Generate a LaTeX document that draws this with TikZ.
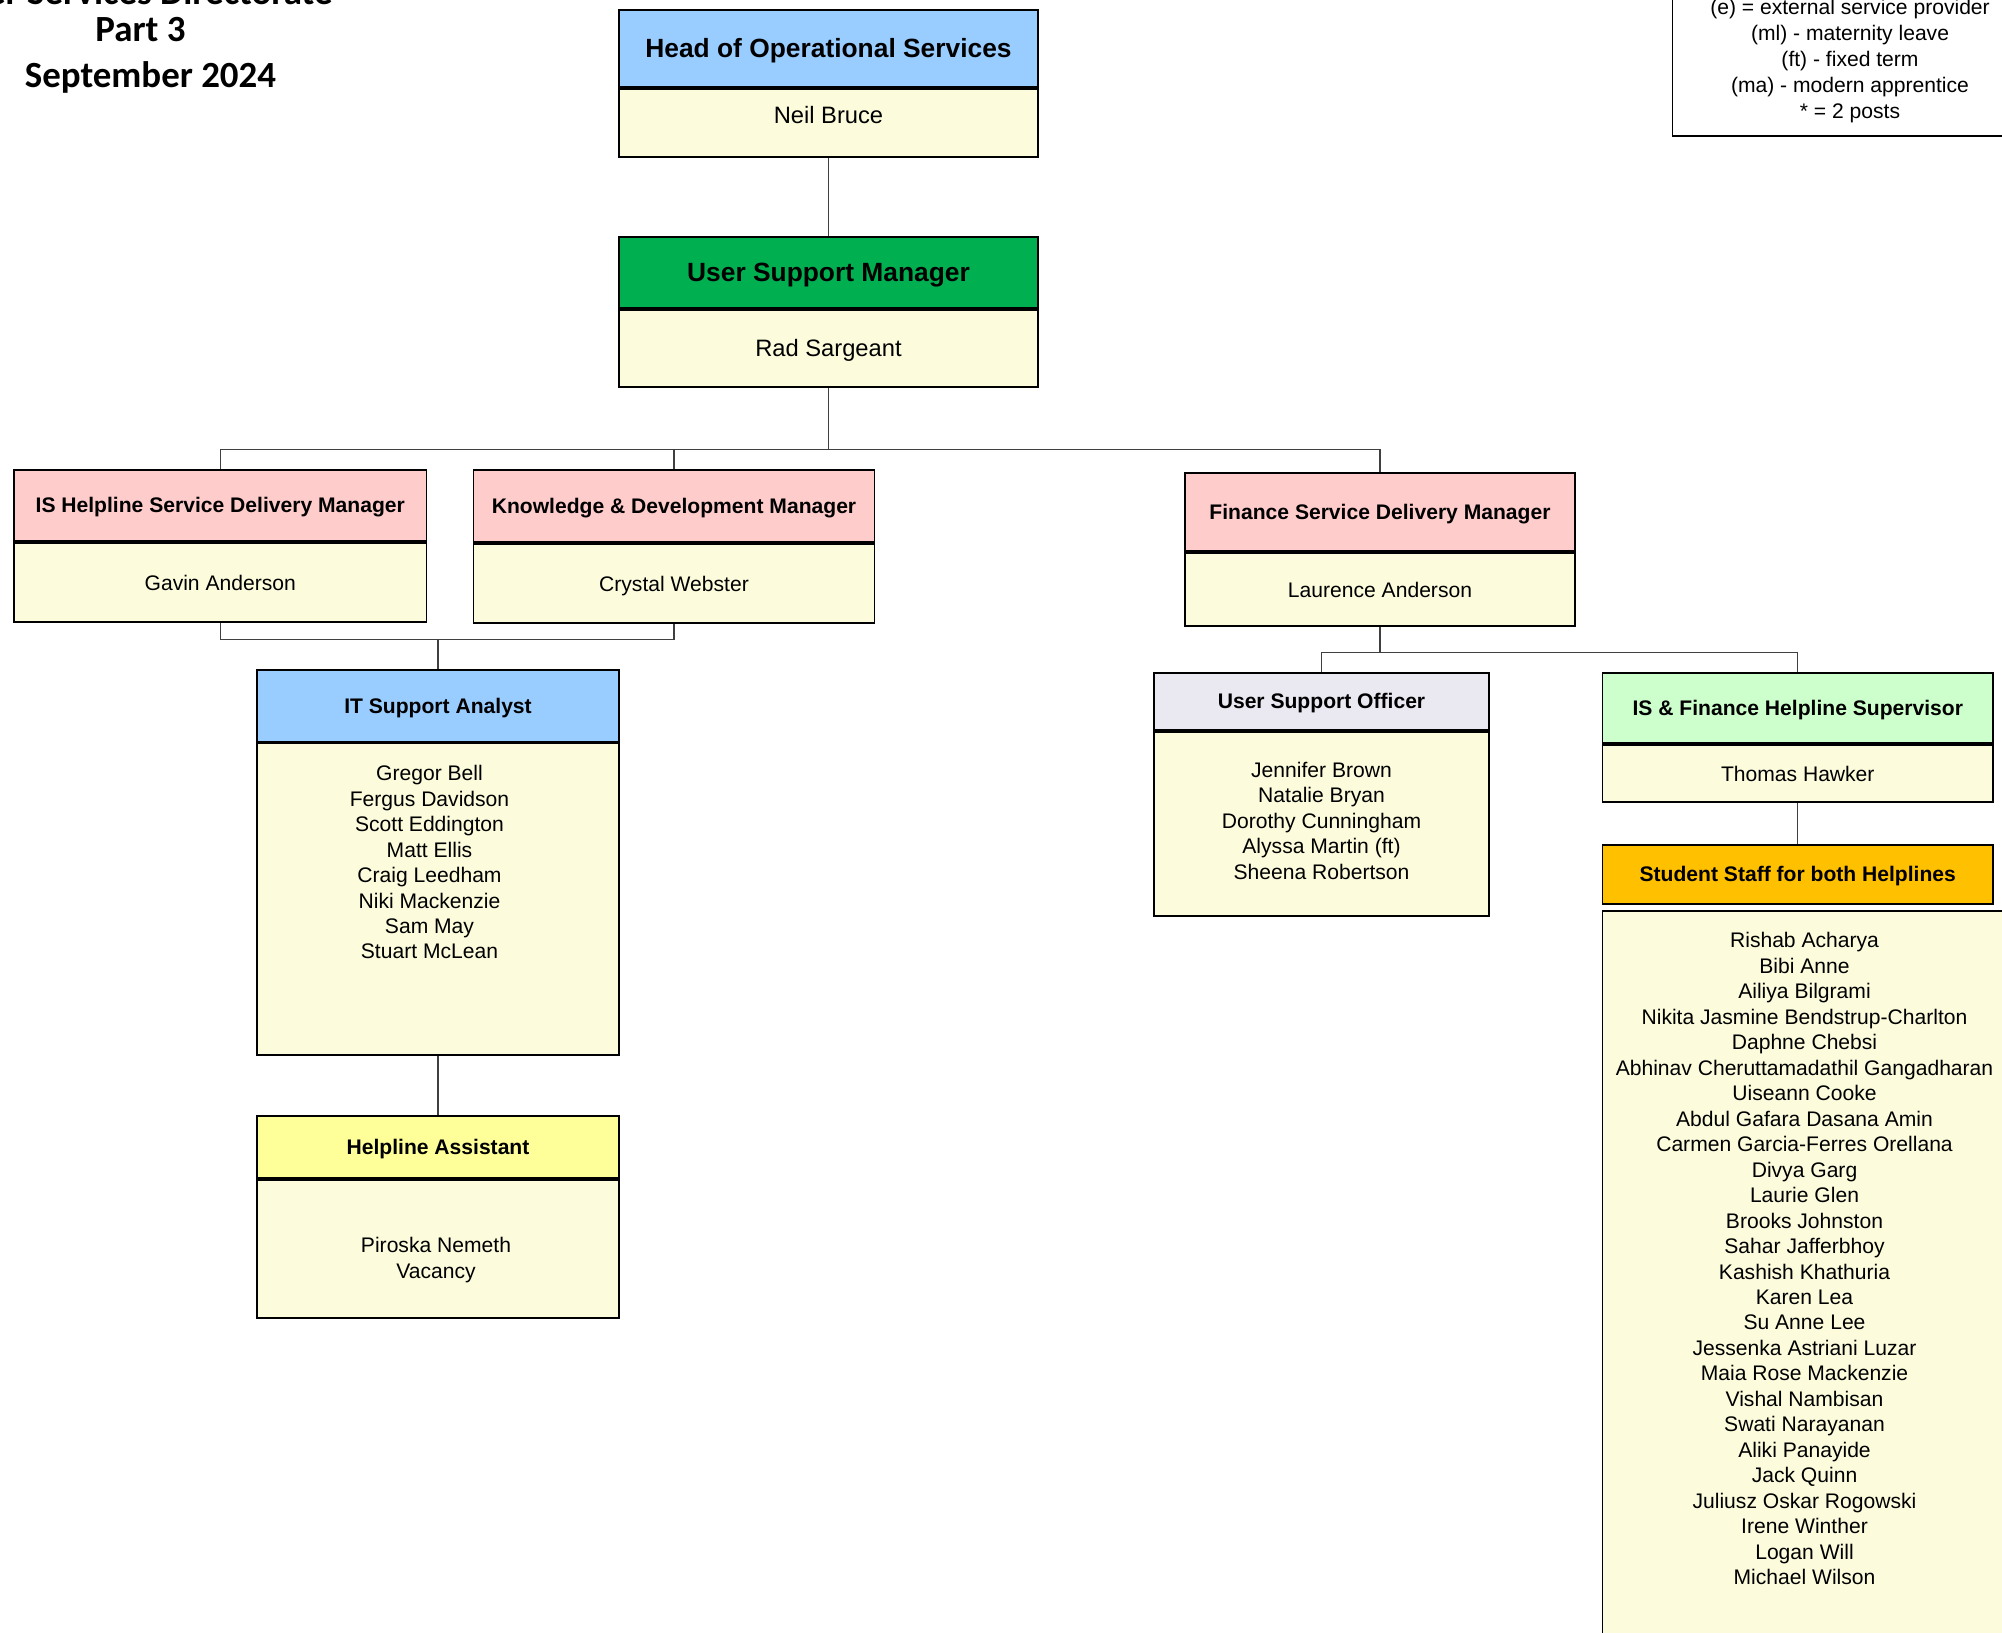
\documentclass[tikz,border=0pt]{standalone}
\usepackage{fontspec}
\setmainfont{Liberation Sans}
\newfontfamily\titlefont{Carlito}
\usetikzlibrary{positioning}
\definecolor{hdrblue}{RGB}{153,204,255}
\definecolor{hdrgreen}{RGB}{0,176,80}
\definecolor{hdrpink}{RGB}{255,204,204}
\definecolor{hdrlilac}{RGB}{234,232,241}
\definecolor{hdrmint}{RGB}{204,255,204}
\definecolor{hdrorange}{RGB}{255,192,0}
\definecolor{hdryellow}{RGB}{255,255,153}
\definecolor{namefill}{RGB}{252,252,220}
\tikzset{
    hdr/.style = {rectangle, draw=black, line width=1.1pt, inner sep=0pt, text height=8.6pt, text depth=0pt, font=\bfseries\fontsize{12}{14}\selectfont},
    hdrbig/.style = {text height=10.8pt, font=\bfseries\fontsize{15}{18}\selectfont},
    namebox/.style = {rectangle, draw=black, line width=1.1pt, inner sep=0pt, align=center, fill=namefill, font=\fontsize{12}{14.5}\selectfont},
    oneline/.style = {text height=8.6pt, text depth=0pt},
    namebig/.style = {text height=9.7pt, font=\fontsize{13.5}{16}\selectfont},
    namelist/.style = {align=center, inner sep=0pt, font=\fontsize{12}{14.5}\selectfont},
    keybox/.style = {rectangle, draw=black, line width=1.1pt, fill=white, inner xsep=0pt, inner ysep=0.25cm, align=center, minimum width=7.1cm, font=\fontsize{12}{14.8}\selectfont},
    titletext/.style = {inner sep=0pt, font=\titlefont\bfseries\fontsize{21}{25}\selectfont},
    linkn/.style = {draw=black!75, line width=0.6pt}, % connector
}
\begin{document}
\begin{tikzpicture}
\useasboundingbox (0,0) rectangle (40.04,-32.66);
%
\node[titletext, anchor=base] (title1) at (2.81,-0.09) {User Services Directorate};
\node[titletext, anchor=base] (title2) at (2.81,-0.83) {Part 3};
\node[titletext, anchor=base] (title3) at (3.01,-1.75) {September 2024};
%
\node[keybox, anchor=south] (key) at (37.0,-2.734) {(e) = external service provider\\(ml) - maternity leave\\(ft) - fixed term\\(ma) - modern apprentice\\* = 2 posts};
%
\node[hdr, hdrbig, fill=hdrblue, minimum width=8.38cm, minimum height=1.54cm, anchor=north] at (16.57,-0.18) (hos) {Head of Operational Services};
\node[namebox, oneline, namebig, text depth=0.3cm, minimum width=8.38cm, minimum height=1.36cm, below=0pt of hos] (hosn) {Neil Bruce};
\node[hdr, hdrbig, fill=hdrgreen, minimum width=8.38cm, minimum height=1.42cm, anchor=north] at (16.57,-4.72) (usm) {User Support Manager};
\node[namebox, oneline, namebig, minimum width=8.38cm, minimum height=1.54cm, below=0pt of usm] (usmn) {Rad Sargeant};
%
\node[hdr, fill=hdrpink, minimum width=8.25cm, minimum height=1.43cm, anchor=north] at (4.405,-9.372) (ish) {IS Helpline Service Delivery Manager};
\node[namebox, oneline, minimum width=8.25cm, minimum height=1.58cm, below=0pt of ish] (ishn) {Gavin Anderson};
\node[hdr, fill=hdrpink, minimum width=8.02cm, minimum height=1.455cm, anchor=north] at (13.48,-9.372) (kd) {Knowledge \& Development Manager};
\node[namebox, oneline, minimum width=8.02cm, minimum height=1.58cm, below=0pt of kd] (kdn) {Crystal Webster};
\node[hdr, fill=hdrpink, minimum width=7.81cm, minimum height=1.56cm, anchor=north] at (27.60,-9.448) (fin) {Finance Service Delivery Manager};
\node[namebox, oneline, minimum width=7.81cm, minimum height=1.456cm, below=0pt of fin] (finn) {Laurence Anderson};
%
\node[hdr, fill=hdrblue, minimum width=7.25cm, minimum height=1.43cm, anchor=north] at (8.76,-13.381) (itsa) {IT Support Analyst};
\node[namebox, minimum width=7.25cm, minimum height=6.23cm, below=0pt of itsa] (itsan) {};
\node[namelist, below=0.45cm of itsan.north, xshift=-0.17cm] (itsalist) {Gregor Bell\\Fergus Davidson\\Scott Eddington\\Matt Ellis\\Craig Leedham\\Niki Mackenzie\\Sam May\\Stuart McLean};
\node[hdr, fill=hdryellow, minimum width=7.25cm, minimum height=1.25cm, anchor=north] at (8.76,-22.293) (ha) {Helpline Assistant};
\node[namebox, minimum width=7.25cm, minimum height=2.76cm, below=0pt of ha] (han) {};
\node[namelist, yshift=-0.22cm, xshift=-0.04cm] at (han.center) (halist) {Piroska Nemeth\\Vacancy};
%
\node[hdr, fill=hdrlilac, minimum width=6.69cm, minimum height=1.15cm, anchor=north] at (26.43,-13.432) (uso) {User Support Officer};
\node[namebox, minimum width=6.69cm, minimum height=3.68cm, below=0pt of uso] (uson) {};
\node[namelist, yshift=0.07cm] at (uson.center) (usolist) {Jennifer Brown\\Natalie Bryan\\Dorothy Cunningham\\Alyssa Martin (ft)\\Sheena Robertson};
\node[hdr, fill=hdrmint, minimum width=7.81cm, minimum height=1.405cm, anchor=north] at (35.955,-13.432) (isfs) {IS \& Finance Helpline Supervisor};
\node[namebox, oneline, minimum width=7.81cm, minimum height=1.15cm, below=0pt of isfs] (isfsn) {Thomas Hawker};
\node[hdr, fill=hdrorange, minimum width=7.81cm, minimum height=1.175cm, anchor=north] at (35.955,-16.879) (ss) {Student Staff for both Helplines};
\node[namebox, minimum width=8.08cm, minimum height=15cm, below=0.1cm of ss.south west, anchor=north west] (ssn) {};
\node[namelist, below=0.45cm of ssn.north] (sslist) {Rishab Acharya\\Bibi Anne\\Ailiya Bilgrami\\Nikita Jasmine Bendstrup-Charlton\\Daphne Chebsi\\Abhinav Cheruttamadathil Gangadharan\\Uiseann Cooke\\Abdul Gafara Dasana Amin\\Carmen Garcia-Ferres Orellana\\Divya Garg\\Laurie Glen\\Brooks Johnston\\Sahar Jafferbhoy\\Kashish Khathuria\\Karen Lea\\Su Anne Lee\\Jessenka Astriani Luzar\\Maia Rose Mackenzie\\Vishal Nambisan\\Swati Narayanan\\Aliki Panayide\\Jack Quinn\\Juliusz Oskar Rogowski\\Irene Winther\\Logan Will\\Michael Wilson};
%
\coordinate (usmbus) at (16.57,-8.99);
\coordinate (itbus) at (8.76,-12.79);
\coordinate (finbus) at (27.60,-13.049);
%
\draw[linkn] (hosn.south) -- (usm.north);
\draw[linkn] (usmn.south) -- (usmbus);
\draw[linkn] (usmbus) -| (ish.north);
\draw[linkn] (usmbus) -| (kd.north);
\draw[linkn] (usmbus) -| (fin.north);
\draw[linkn] (ishn.south) |- (itbus);
\draw[linkn] (kdn.south) |- (itbus);
\draw[linkn] (itbus) -- (itsa.north);
\draw[linkn] (itsan.south) -- (ha.north);
\draw[linkn] (finn.south) -- (finbus);
\draw[linkn] (finbus) -| (uso.north);
\draw[linkn] (finbus) -| (isfs.north);
\draw[linkn] (isfsn.south) -- (ss.north);

\end{tikzpicture}
\end{document}
